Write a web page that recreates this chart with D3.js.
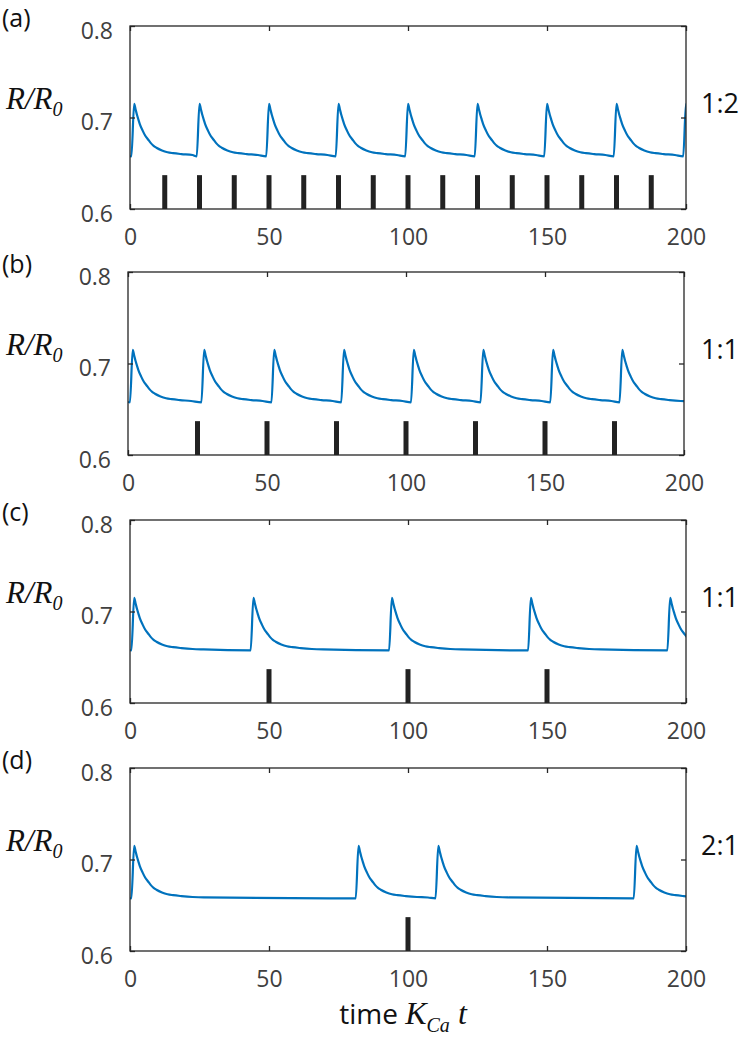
<!DOCTYPE html>
<html>
<head>
<meta charset="utf-8">
<script src="https://cdn.jsdelivr.net/npm/d3@7"></script>
<style>
  body { margin: 0; background: #fff; }
  svg { display: block; }
  .tick text { font-family: "Open Sans", sans-serif; font-size: 23px; fill: #404040; }
  .tick line { stroke: #262626; stroke-width: 1.3; }
</style>
</head>
<body>
<div id="chart"></div>
<script>
// panel texts
const panelLabels = ['(a)', '(b)', '(c)', '(d)']
const ratioLabels = ['1:2', '1:1', '1:1', '2:1']
const xTicks = [0, 50, 100, 150, 200]
const yTicks = [0.6, 0.7, 0.8]

// stimulus times (black bars)
const stimA = [12.5, 25, 37.5, 50, 62.5, 75, 87.5, 100, 112.5, 125, 137.5, 150, 162.5, 175, 187.5]
const stimB = [25, 50, 75, 100, 125, 150, 175]
const stimC = [50, 100, 150]
const stimD = [100]
const stimHeight = 0.637

// times of the R/R0 peaks
const peaksA = [1.5, 25, 50, 75, 100, 125, 150, 175, 200]
const peaksB = [1.7, 27.4, 52.6, 77.7, 102.8, 127.8, 152.9, 177.8]
const peaksC = [1.5, 44.4, 94.2, 144.2, 194.3]
const peaksD = [1.5, 82.2, 110.9, 182.2]

// shape of one peak (time after peak, R/R0)
const spikeOffsets = [-1, 0, 0.5, 1, 1.5, 2, 3, 4, 5, 6, 7, 8, 10, 12, 14, 17, 21, 25]
const spikeValues = [0.6575, 0.715, 0.709, 0.703, 0.698, 0.693, 0.686, 0.680, 0.676, 0.672, 0.669, 0.667, 0.664, 0.662, 0.661, 0.660, 0.659, 0.6585]
const startValue = 0.658

const stims = [stimA, stimB, stimC, stimD]
const peaks = [peaksA, peaksB, peaksC, peaksD]

const W = 742, H = 1041
const left = 130, plotW = 556, plotH = 183
const tops = [26, 272, 520, 768]
const shiftX = [0, -2, 0, 0]

const svg = d3.select('#chart').append('svg').attr('width', W).attr('height', H)
svg.append('rect').attr('width', W).attr('height', H).attr('fill', '#fff')

const x = d3.scaleLinear().domain([0, 200]).range([0, plotW])
const y = d3.scaleLinear().domain([0.6, 0.8]).range([plotH, 0])

function curve(pk) {
    let pts = [[0, startValue]]
    pk.forEach((p, i) => {
        const nextOnset = i < pk.length - 1 ? pk[i + 1] + spikeOffsets[0] : Infinity
        spikeOffsets.forEach((o, j) => {
            const t = p + o
            if (t > 0 && t < nextOnset) pts.push([t, spikeValues[j]])
        })
    })
    return pts
}

const line = d3.line().x(d => x(d[0])).y(d => y(d[1])).curve(d3.curveMonotoneX)

panelLabels.forEach((lab, i) => {
    const g = svg.append('g').attr('transform', `translate(${left + shiftX[i]},${tops[i]})`)

    g.append('clipPath').attr('id', 'clip' + i)
        .append('rect').attr('width', plotW).attr('height', plotH)

    // stimulus bars
    g.selectAll('.bar')
        .data(stims[i])
        .enter()
        .append('rect')
        .attr('class', 'bar')
        .attr('x', d => x(d) - 2.5)
        .attr('y', y(stimHeight))
        .attr('width', 5)
        .attr('height', y(0.6) - y(stimHeight))
        .attr('fill', '#222')

    // R/R0 line
    g.append('path')
        .datum(curve(peaks[i]))
        .attr('d', line)
        .attr('fill', 'none')
        .attr('stroke', '#0072BD')
        .attr('stroke-width', 2.2)
        .attr('stroke-linejoin', 'round')
        .attr('clip-path', `url(#clip${i})`)

    // axes, ticks inside
    const gb = g.append('g').attr('transform', `translate(0,${plotH})`)
        .call(d3.axisBottom(x).tickValues(xTicks).tickSize(-5).tickPadding(20))
    gb.select('.domain').remove()
    const gt = g.append('g')
        .call(d3.axisTop(x).tickValues(xTicks).tickSize(-5).tickFormat(''))
    gt.select('.domain').remove()
    const gl = g.append('g')
        .call(d3.axisLeft(y).tickValues(yTicks).tickSize(-5).tickPadding(17).tickFormat(d3.format('.1f')))
    gl.select('.domain').remove()
    gl.selectAll('text').attr('dy', '0.54em')
    const gr = g.append('g').attr('transform', `translate(${plotW},0)`)
        .call(d3.axisRight(y).tickValues(yTicks).tickSize(-5).tickFormat(''))
    gr.select('.domain').remove()

    // box
    g.append('rect')
        .attr('width', plotW).attr('height', plotH)
        .attr('fill', 'none').attr('stroke', '#262626').attr('stroke-width', 1.3)

    // panel label
    svg.append('text')
        .attr('x', 2).attr('y', tops[i] + 1)
        .attr('font-family', 'Open Sans, sans-serif').attr('font-size', 25)
        .attr('fill', '#111')
        .text(lab)

    // y label R/R0
    const yl = svg.append('text')
        .attr('x', 6).attr('y', tops[i] + y(0.7) - 8.5)
        .attr('font-family', 'Liberation Serif, serif').attr('font-style', 'italic')
        .attr('font-size', 31).attr('fill', '#111')
    yl.append('tspan').text('R/R')
    yl.append('tspan').attr('dy', 7).attr('font-size', 20).text('0')

    // ratio label
    svg.append('text')
        .attr('x', 701).attr('y', tops[i] + y(0.7) - 5)
        .attr('font-family', 'Open Sans, sans-serif').attr('font-size', 27)
        .attr('fill', '#111')
        .text(ratioLabels[i])
})

// x axis label
const xl = svg.append('text')
    .attr('x', 403).attr('y', 1024)
    .attr('text-anchor', 'middle')
    .attr('font-size', 28).attr('fill', '#111')
xl.append('tspan').attr('font-family', 'Open Sans, sans-serif').text('time ')
xl.append('tspan').attr('font-family', 'Liberation Serif, serif').attr('font-style', 'italic').attr('font-size', 32).text('K')
xl.append('tspan').attr('font-family', 'Liberation Serif, serif').attr('font-style', 'italic').attr('font-size', 20).attr('dy', 8).text('Ca')
xl.append('tspan').attr('font-family', 'Liberation Serif, serif').attr('font-style', 'italic').attr('font-size', 32).attr('dy', -8).text(' t')
</script>
</body>
</html>
